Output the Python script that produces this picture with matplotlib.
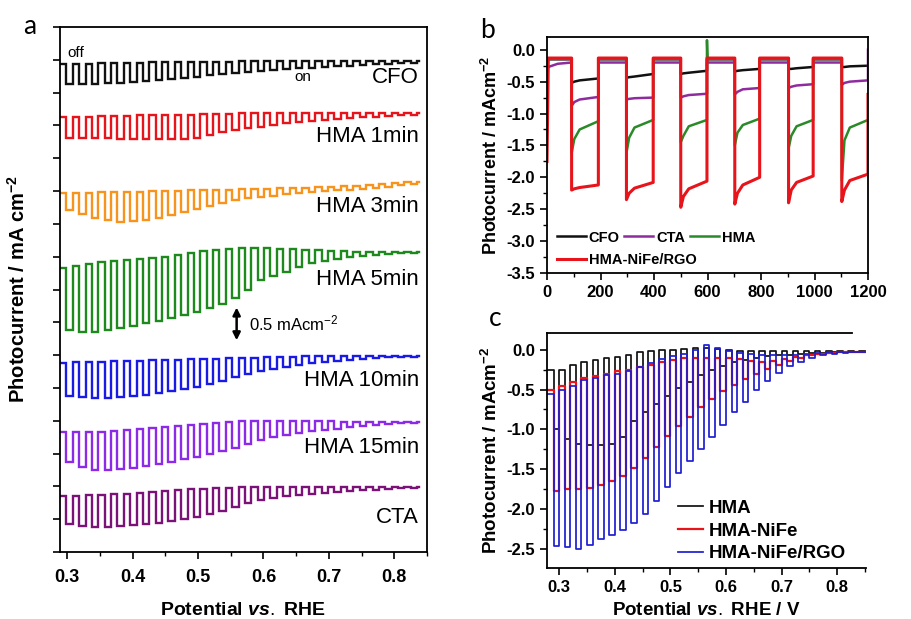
"""
Chopped-light photocurrent figure: (a) stacked LSV traces of CFO, HMA series and CTA,
(b) transient photocurrent under chopped light, (c) chopped LSV of HMA composites.
"""
import matplotlib
matplotlib.use("Agg")
import matplotlib.pyplot as plt
from matplotlib.ticker import MultipleLocator

plt.rcParams["font.family"] = ["Liberation Sans", "DejaVu Sans"]
plt.rcParams["mathtext.fontset"] = "custom"
plt.rcParams["mathtext.rm"] = "Liberation Sans"
plt.rcParams["mathtext.bf"] = "Liberation Sans:bold"
plt.rcParams["mathtext.it"] = "Liberation Sans:italic:bold"
plt.rcParams["axes.unicode_minus"] = False

# ─── Panel a: per-cycle dark / light current (mA cm-2, relative to trace baseline) ───
a_names = ["CFO", "HMA 1min", "HMA 3min", "HMA 5min", "HMA 10min", "HMA 15min", "CTA"]
a_colors = ["#111111", "#E8141B", "#F7941D", "#1E8A1E", "#1A1AE6", "#8B2BE8", "#7A1278"]
a_offsets = [7.485, 6.692, 5.640, 4.573, 2.988, 1.982, 0.991]
a_label_y = [7.225, 6.33, 5.26, 4.15, 2.62, 1.585, 0.53]

cfo_dark = [-0.045, -0.045, -0.045, -0.03, -0.03, -0.03, -0.03, -0.015, -0.015, -0.015,
            -0.015, -0.015, -0.015, -0.015, 0, 0, 0, 0, 0, 0, 0, 0, 0, 0, 0, 0, 0, 0]
cfo_light = [-0.35, -0.35, -0.35, -0.335, -0.335, -0.32, -0.305, -0.29, -0.275, -0.26,
             -0.245, -0.215, -0.20, -0.18, -0.17, -0.15, -0.14, -0.12, -0.105, -0.105,
             -0.09, -0.075, -0.075, -0.06, -0.045, -0.045, -0.03, -0.03]
hma1_dark = [-0.06, -0.06, -0.06, -0.045, -0.045, -0.045, -0.03, -0.03, -0.03, -0.03,
             -0.03, -0.015, -0.015, -0.015, 0, 0, 0, 0, 0, 0, 0, 0, 0, 0, 0, 0, 0, 0]
hma1_light = [-0.38, -0.38, -0.38, -0.38, -0.395, -0.395, -0.395, -0.395, -0.395, -0.395,
              -0.38, -0.335, -0.29, -0.26, -0.23, -0.215, -0.18, -0.15, -0.14, -0.12,
              -0.105, -0.09, -0.075, -0.06, -0.06, -0.045, -0.03, -0.03]
hma3_dark = [-0.17, -0.17, -0.17, -0.15, -0.15, -0.15, -0.15, -0.14, -0.14, -0.14,
             -0.12, -0.12, -0.12, -0.12, -0.105, -0.105, -0.105, -0.09, -0.09, -0.09,
             -0.075, -0.075, -0.06, -0.06, -0.045, -0.03, -0.015, 0]
hma3_light = [-0.425, -0.49, -0.55, -0.58, -0.61, -0.595, -0.58, -0.55, -0.505, -0.455,
              -0.41, -0.365, -0.32, -0.275, -0.245, -0.23, -0.215, -0.18, -0.17, -0.15,
              -0.14, -0.12, -0.12, -0.105, -0.09, -0.075, -0.045, -0.03]
hma5_dark = [-0.245, -0.215, -0.18, -0.15, -0.14, -0.12, -0.105, -0.09, -0.075, -0.045,
             -0.015, 0.015, 0.03, 0.045, 0.06, 0.06, 0.06, 0.045, 0.045, 0.03,
             0.03, 0.015, 0.015, 0, 0, 0, 0, 0]
hma5_light = [-1.19, -1.22, -1.22, -1.19, -1.16, -1.13, -1.08, -1.05, -1.005, -0.96,
              -0.915, -0.855, -0.79, -0.70, -0.58, -0.425, -0.365, -0.305, -0.23, -0.17,
              -0.14, -0.105, -0.075, -0.06, -0.045, -0.03, -0.015, -0.015]
hma10_dark = [-0.105, -0.09, -0.09, -0.09, -0.075, -0.075, -0.075, -0.06, -0.06, -0.06,
              -0.045, -0.045, -0.045, -0.03, -0.03, -0.03, -0.015, -0.015, -0.015, 0,
              0, 0, 0, 0, 0, 0, 0, 0]
hma10_light = [-0.61, -0.625, -0.64, -0.64, -0.625, -0.61, -0.595, -0.565, -0.535, -0.505,
               -0.47, -0.425, -0.38, -0.32, -0.275, -0.23, -0.20, -0.17, -0.14, -0.105,
               -0.09, -0.075, -0.06, -0.045, -0.03, -0.015, -0.015, -0.015]
hma15_dark = [-0.15, -0.15, -0.15, -0.15, -0.14, -0.12, -0.105, -0.09, -0.075, -0.06,
              -0.045, -0.03, -0.015, 0, 0.015, 0.015, 0.015, 0.015, 0.015, 0.015,
              0.015, 0.015, 0, 0, 0, 0, 0, 0]
hma15_light = [-0.61, -0.685, -0.73, -0.73, -0.715, -0.70, -0.67, -0.64, -0.61, -0.565,
               -0.535, -0.49, -0.44, -0.395, -0.335, -0.275, -0.23, -0.20, -0.17, -0.14,
               -0.12, -0.105, -0.075, -0.06, -0.045, -0.03, -0.015, -0.015]
cta_dark = [-0.135, -0.135, -0.12, -0.12, -0.105, -0.105, -0.09, -0.075, -0.06, -0.045,
            -0.03, -0.03, -0.015, -0.015, 0, 0, 0, 0, 0, 0, 0, 0, 0, 0, 0, 0, 0, 0]
cta_light = [-0.565, -0.595, -0.61, -0.61, -0.595, -0.58, -0.565, -0.55, -0.52, -0.49,
             -0.455, -0.41, -0.365, -0.305, -0.245, -0.20, -0.17, -0.14, -0.12, -0.105,
             -0.09, -0.075, -0.06, -0.045, -0.045, -0.03, -0.015, -0.015]
a_dark = [cfo_dark, hma1_dark, hma3_dark, hma5_dark, hma10_dark, hma15_dark, cta_dark]
a_light = [cfo_light, hma1_light, hma3_light, hma5_light, hma10_light, hma15_light, cta_light]
a_start, a_period, a_end = 0.289, 0.0195, 0.838
a_scale = 0.5  # scale bar, mA cm-2

# ─── Panel b: chopped transient, 6 light-on windows ───
b_t_on = [92, 297, 500, 702, 903, 1102]
b_t_off = [192, 397, 598, 795, 995, 1200]
b_win_t = [0, 10, 30]          # seconds after light on, plus window end
b_lead_t = [0, 5, 40]          # opening dark segment
b_names = ["CFO", "CTA", "HMA", "HMA-NiFe/RGO"]
b_colors = ["#111111", "#8E2C9E", "#2A8A2A", "#E8141B"]
b_dark = [-0.15, -0.2, -0.14, -0.13]
b_lead = [[-0.15, -0.15, -0.15], [-0.32, -0.27, -0.22],
          [-0.14, -0.14, -0.14], [-1.75, -0.13, -0.13]]
b_cfo_on = [[-0.52, -0.5, -0.48, -0.45], [-0.44, -0.43, -0.42, -0.38],
            [-0.38, -0.37, -0.36, -0.33], [-0.34, -0.33, -0.32, -0.3],
            [-0.3, -0.3, -0.29, -0.27], [-0.27, -0.27, -0.26, -0.25]]
b_cta_on = [[-0.88, -0.82, -0.78, -0.74], [-0.78, -0.77, -0.76, -0.75],
            [-0.75, -0.73, -0.71, -0.69], [-0.7, -0.66, -0.62, -0.6],
            [-0.6, -0.58, -0.56, -0.54], [-0.55, -0.52, -0.5, -0.48]]
b_hma_on = [[-1.62, -1.4, -1.25, -1.12], [-1.62, -1.38, -1.22, -1.1],
            [-1.45, -1.35, -1.2, -1.1], [-1.5, -1.3, -1.18, -1.08],
            [-1.55, -1.35, -1.2, -1.1], [-2.05, -1.42, -1.22, -1.1]]
b_rgo_on = [[-2.2, -2.18, -2.16, -2.12], [-2.35, -2.25, -2.17, -2.08],
            [-2.47, -2.3, -2.18, -2.06], [-2.42, -2.25, -2.12, -2.0],
            [-2.4, -2.2, -2.08, -1.98], [-2.38, -2.2, -2.05, -1.95]]
b_on = [b_cfo_on, b_cta_on, b_hma_on, b_rgo_on]
b_tail = [None, 0.0, None, -0.7]        # current right at 1200 s
b_hma_peak = {2: 0.15}                  # overshoot of HMA at light-off

# ─── Panel c: per-cycle dark / light current, mA cm-2 ───
c_names = ["HMA", "HMA-NiFe", "HMA-NiFe/RGO"]
c_colors = ["#111111", "#E8141B", "#1E1ED0"]
hma_c_dark = [-0.25, -0.25, -0.19, -0.16, -0.13, -0.11, -0.09, -0.06, -0.03, -0.01,
              0.0, 0.0, 0.01, 0.02, 0.02, 0.01, 0.0, -0.01, -0.02, -0.02,
              -0.02, -0.02, -0.02, -0.02, -0.02, -0.02, -0.02, -0.02]
hma_c_light = [-1.0, -1.12, -1.18, -1.2, -1.2, -1.18, -1.1, -0.9, -0.78, -0.68,
               -0.58, -0.48, -0.4, -0.32, -0.25, -0.2, -0.16, -0.13, -0.1, -0.08,
               -0.07, -0.06, -0.05, -0.04, -0.04, -0.03, -0.03, -0.03]
nife_c_dark = [-0.5, -0.45, -0.4, -0.36, -0.33, -0.3, -0.27, -0.25, -0.22, -0.19,
               -0.16, -0.13, -0.11, -0.1, -0.1, -0.1, -0.11, -0.12, -0.14, -0.15,
               -0.14, -0.12, -0.09, -0.06, -0.05, -0.04, -0.03, -0.03]
nife_c_light = [-1.77, -1.75, -1.75, -1.73, -1.7, -1.65, -1.58, -1.48, -1.36, -1.22,
                -1.08, -0.96, -0.84, -0.72, -0.62, -0.52, -0.44, -0.37, -0.3, -0.24,
                -0.19, -0.14, -0.1, -0.07, -0.05, -0.04, -0.03, -0.03]
rgo_c_dark = [-0.55, -0.5, -0.45, -0.38, -0.35, -0.32, -0.3, -0.27, -0.22, -0.17,
              -0.12, -0.08, -0.05, 0.0, 0.06, 0.02, -0.02, -0.04, -0.05, -0.06,
              -0.07, -0.07, -0.06, -0.05, -0.04, -0.03, -0.03, -0.03]
rgo_c_light = [-2.47, -2.48, -2.5, -2.45, -2.38, -2.33, -2.26, -2.18, -2.06, -1.9,
               -1.72, -1.55, -1.4, -1.24, -1.1, -0.94, -0.78, -0.65, -0.5, -0.39,
               -0.29, -0.21, -0.15, -0.1, -0.07, -0.05, -0.04, -0.03]
c_dark = [hma_c_dark, nife_c_dark, rgo_c_dark]
c_light = [hma_c_light, nife_c_light, rgo_c_light]
c_start, c_period, c_end = 0.28, 0.02, 0.85


def chopped(x0, period, dark, light, x_end, base=0.0):
    """Square-wave trace: first half of each cycle dark, second half illuminated."""
    xs, ys = [], []
    for k, (d, l) in enumerate(zip(dark, light)):
        a = x0 + k * period
        m = a + period / 2
        b = a + period
        xs += [a, m, m, b]
        ys += [base + d, base + d, base + l, base + l]
    xs += [xs[-1], x_end]
    ys += [base + dark[-1], base + dark[-1]]
    return xs, ys


def transient(lead, dark, windows, tail, peaks=None):
    t = list(b_lead_t)
    v = list(lead)
    peaks = peaks or {}
    for i, (on, off) in enumerate(zip(b_t_on, b_t_off)):
        w = windows[i]
        t += [on, on] + [on + dt for dt in b_win_t[1:]] + [off]
        v += [dark, w[0], w[1], w[2], w[3]]
        if off < 1200:
            if i in peaks:
                t += [off, off + 2]
                v += [peaks[i], dark]
            else:
                t += [off]
                v += [dark]
    if tail is not None:
        t += [1200]
        v += [tail]
    return t, v


def style_ticks(ax, size, pad=3.5):
    ax.tick_params(which="major", direction="out", length=5, width=1.2, pad=pad,
                   labelsize=size, top=False, right=False)
    ax.tick_params(which="minor", direction="out", length=3, width=1.0,
                   top=False, right=False)
    for lab in ax.get_xticklabels() + ax.get_yticklabels():
        lab.set_fontweight("bold")
    for sp in ax.spines.values():
        sp.set_linewidth(1.3)


W, H = 911, 619
fig = plt.figure(figsize=(W / 100, H / 100), dpi=100)


def px_axes(left, top, right, bottom):
    return fig.add_axes([left / W, 1 - bottom / H, (right - left) / W, (bottom - top) / H])


# ─── a ───
ax_a = px_axes(60, 27, 427, 552)
for name, col, off, ly, dk, lt in zip(a_names, a_colors, a_offsets, a_label_y, a_dark, a_light):
    xs, ys = chopped(a_start, a_period, dk, lt, a_end, base=off)
    ax_a.plot(xs, ys, color=col, lw=1.7, solid_joinstyle="miter")
    ax_a.text(a_end, ly, name, ha="right", va="center", fontsize=16)
ax_a.set_xlim(0.289, 0.85)
ax_a.set_ylim(0, 8)
ax_a.xaxis.set_major_locator(MultipleLocator(0.1))
ax_a.xaxis.set_minor_locator(MultipleLocator(0.05))
ax_a.yaxis.set_major_locator(MultipleLocator(0.5))
ax_a.tick_params(labelleft=False)
style_ticks(ax_a, 13, pad=7)
ax_a.text(0.301, 7.6, "off", fontsize=11, ha="left", va="center")
ax_a.text(0.66, 7.24, "on", fontsize=11, ha="center", va="center")
bar_x, bar_mid = 0.559, 3.476
ax_a.annotate("", xy=(bar_x, bar_mid + a_scale / 2), xytext=(bar_x, bar_mid - a_scale / 2),
              arrowprops=dict(arrowstyle="<|-|>", lw=1.8, color="k", mutation_scale=11,
                              shrinkA=0, shrinkB=0))
ax_a.text(0.578, bar_mid, f"{a_scale} mAcm$^{{-2}}$", fontsize=12, va="center")
ax_a.set_ylabel("Photocurrent / mA cm$^{\\mathbf{-2}}$", fontsize=14.5, fontweight="bold")
ax_a.yaxis.set_label_coords(-0.085, 0.5)
ax_a.set_xlabel("Potential $\\mathit{vs.}$ RHE", fontsize=14, fontweight="bold", labelpad=12)

# ─── b ───
ax_b = px_axes(547, 37, 868, 273)
handles = []
for i, (name, col) in enumerate(zip(b_names, b_colors)):
    t, v = transient(b_lead[i], b_dark[i], b_on[i], b_tail[i],
                     b_hma_peak if name == "HMA" else None)
    lw = 2.2 if name == "HMA-NiFe/RGO" else 1.8
    h, = ax_b.plot(t, v, color=col, lw=lw, label=name)
    handles.append(h)
ax_b.set_xlim(0, 1200)
ax_b.set_ylim(-3.5, 0.2)
ax_b.xaxis.set_major_locator(MultipleLocator(200))
ax_b.xaxis.set_minor_locator(MultipleLocator(100))
ax_b.yaxis.set_major_locator(MultipleLocator(0.5))
ax_b.yaxis.set_minor_locator(MultipleLocator(0.25))
ax_b.set_yticks([0.0, -0.5, -1.0, -1.5, -2.0, -2.5, -3.0, -3.5])
ax_b.set_yticklabels([f"{y:.1f}" for y in [0.0, -0.5, -1.0, -1.5, -2.0, -2.5, -3.0, -3.5]])
style_ticks(ax_b, 12)
ax_b.set_ylabel("Photocurrent / mAcm$^{\\mathbf{-2}}$", fontsize=13, fontweight="bold", labelpad=4)
leg_kw = dict(frameon=False, prop={"weight": "bold", "size": 10.5}, handlelength=2.0,
              handletextpad=0.2, columnspacing=0.3, borderpad=0, borderaxespad=0)
leg1 = ax_b.legend(handles[:3], b_names[:3], ncol=3, loc="upper left",
                   bbox_to_anchor=(0.03, 0.18), **leg_kw)
ax_b.add_artist(leg1)
ax_b.legend(handles[3:], b_names[3:], loc="upper left", bbox_to_anchor=(0.03, 0.083), **leg_kw)

# ─── c ───
ax_c = px_axes(547, 333, 866, 568)
handles = []
for name, col, dk, lt in zip(c_names, c_colors, c_dark, c_light):
    xs, ys = chopped(c_start, c_period, dk, lt, c_end)
    lw = 1.6 if name == "HMA-NiFe" else 1.25
    h, = ax_c.plot(xs, ys, color=col, lw=lw, label=name)
    handles.append(h)
ax_c.set_xlim(0.278, 0.852)
ax_c.set_ylim(-2.74, 0.21)
ax_c.xaxis.set_major_locator(MultipleLocator(0.1))
ax_c.xaxis.set_minor_locator(MultipleLocator(0.05))
ax_c.set_yticks([0.0, -0.5, -1.0, -1.5, -2.0, -2.5])
ax_c.set_yticklabels([f"{y:.1f}" for y in [0.0, -0.5, -1.0, -1.5, -2.0, -2.5]])
ax_c.yaxis.set_minor_locator(MultipleLocator(0.25))
style_ticks(ax_c, 12)
ax_c.spines["right"].set_visible(False)
ax_c.spines["top"].set_bounds(0.278, 0.827)
ax_c.set_ylabel("Photocurrent / mAcm$^{\\mathbf{-2}}$", fontsize=13.5, fontweight="bold", labelpad=4)
ax_c.set_xlabel("Potential $\\mathit{vs.}$ RHE / V", fontsize=13.5, fontweight="bold", labelpad=5)
ax_c.legend(handles, c_names, loc="upper left", bbox_to_anchor=(0.41, 0.29), frameon=False,
            prop={"weight": "bold", "size": 13.5}, handlelength=1.35, handletextpad=0.3,
            labelspacing=0.3, borderpad=0, borderaxespad=0)

# panel letters
for letter, x, y in [("a", 30, 27), ("b", 487, 30), ("c", 495, 318)]:
    fig.text(x / W, 1 - y / H, letter, fontsize=19, family="Lato", ha="center", va="center")

fig.savefig("out.png", dpi=100)
